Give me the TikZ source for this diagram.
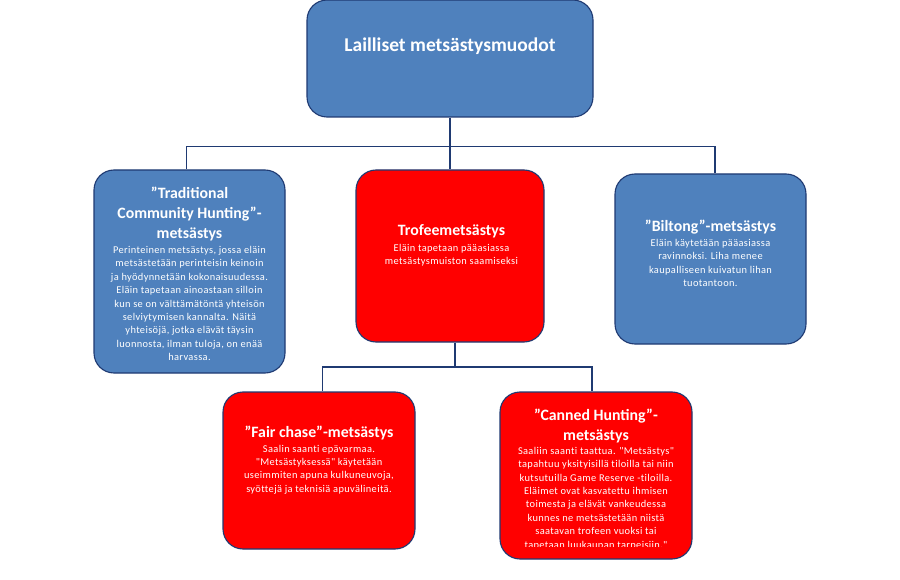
\documentclass[tikz,border=0pt]{standalone}
\usepackage{fontspec}
\setmainfont{Carlito}
\newfontfamily\bodyfont[LetterSpace=3.5,Ligatures=NoCommon]{Carlito}
\definecolor{boxblue}{HTML}{4F81BD}
\definecolor{boxred}{HTML}{FF0000}
\definecolor{boxline}{HTML}{1F3A72}
\begin{document}
\begin{tikzpicture}[x=1pt,y=-1pt,
  box/.style={draw=boxline, line width=1.1pt, rounded corners=20pt, inner sep=0pt},
  bluebox/.style={box, fill=boxblue},
  redbox/.style={box, fill=boxred},
  conn/.style={draw=boxline, line width=1.6pt},
  toptitle/.style={text=white, inner sep=0pt, font=\bfseries\fontsize{19.5}{22}\selectfont},
  ttl/.style={text=white, inner sep=0pt, align=center, font=\bfseries\fontsize{15.8}{20}\selectfont},
  body/.style={text=white, inner sep=0pt, align=center, font=\bodyfont\fontsize{10.4}{13.4}\selectfont}]
\useasboundingbox (0,0) rectangle (900,580);
\fill[white] (0,0) rectangle (900,580);

% boxes
\node[bluebox, minimum width=286pt, minimum height=117pt] (top) at (450,58.5) {};
\node[bluebox, minimum width=191pt, minimum height=203pt] (trad) at (189.5,271.5) {};
\node[redbox, minimum width=188pt, minimum height=172pt] (trof) at (450,256) {};
\node[bluebox, minimum width=191pt, minimum height=170pt] (bilt) at (710.5,259) {};
\node[redbox, minimum width=192pt, minimum height=157pt] (fair) at (319,470.5) {};
\node[redbox, minimum width=192pt, minimum height=167pt] (cann) at (596,475.5) {};

% connectors
\coordinate (j1) at (450,146.5);
\coordinate (j2) at (455,367);
\draw[conn] (top.south) -- (j1);
\draw[conn] (j1) -- (trof.north);
\draw[conn] (j1) -| ([xshift=-3pt]trad.north);
\draw[conn] (j1) -| ([xshift=4.5pt]bilt.north);
\draw[conn] ([xshift=5pt]trof.south) -- (j2);
\draw[conn] (j2) -| ([xshift=3.5pt]fair.north);
\draw[conn] (j2) -| ([xshift=-4pt]cann.north);

% texts
\node[toptitle] (toptxt) at (450,46) {Lailliset metsästysmuodot};

\node[ttl] (tradttl) at (189.5,214) {”Traditional\\Community Hunting”-\\metsästys};
\node[body] (tradbody) at (189.5,303.5) {Perinteinen metsästys, jossa eläin\\metsästetään perinteisin keinoin\\ja hyödynnetään kokonaisuudessa.\\Eläin tapetaan ainoastaan silloin\\kun se on välttämätöntä yhteisön\\selviytymisen kannalta. Näitä\\yhteisöjä, jotka elävät täysin\\luonnosta, ilman tuloja, on enää\\harvassa.};

\node[ttl] (troftl) at (451.5,231) {Trofeemetsästys};
\node[body] (trofbody) at (451.5,255) {Eläin tapetaan pääasiassa\\metsästysmuiston saamiseksi};

\node[ttl] (biltttl) at (710.5,227) {”Biltong”-metsästys};
\node[body] (biltbody) at (710.5,263) {Eläin käytetään pääasiassa\\ravinnoksi. Liha menee\\kaupalliseen kuivatun lihan\\tuotantoon.};

\node[ttl] (fairttl) at (319,433) {”Fair chase”-metsästys};
\node[body] (fairbody) at (319,469.5) {Saalin saanti epävarmaa.\\"Metsästyksessä" käytetään\\useimmiten apuna kulkuneuvoja,\\syöttejä ja teknisiä apuvälineitä.};

\node[ttl] (cannttl) at (596,425.5) {”Canned Hunting”-\\metsästys};
\begin{scope}
\clip (500,440) rectangle (693,546.5);
\node[body] (cannbody) at (596,498.5) {Saaliin saanti taattua. "Metsästys"\\tapahtuu yksityisillä tiloilla tai niin\\kutsutuilla Game Reserve -tiloilla.\\Eläimet ovat kasvatettu ihmisen\\toimesta ja elävät vankeudessa\\kunnes ne metsästetään niistä\\saatavan trofeen vuoksi tai\\tapetaan luukaupan tarpeisiin."};
\end{scope}
\end{tikzpicture}
\end{document}
